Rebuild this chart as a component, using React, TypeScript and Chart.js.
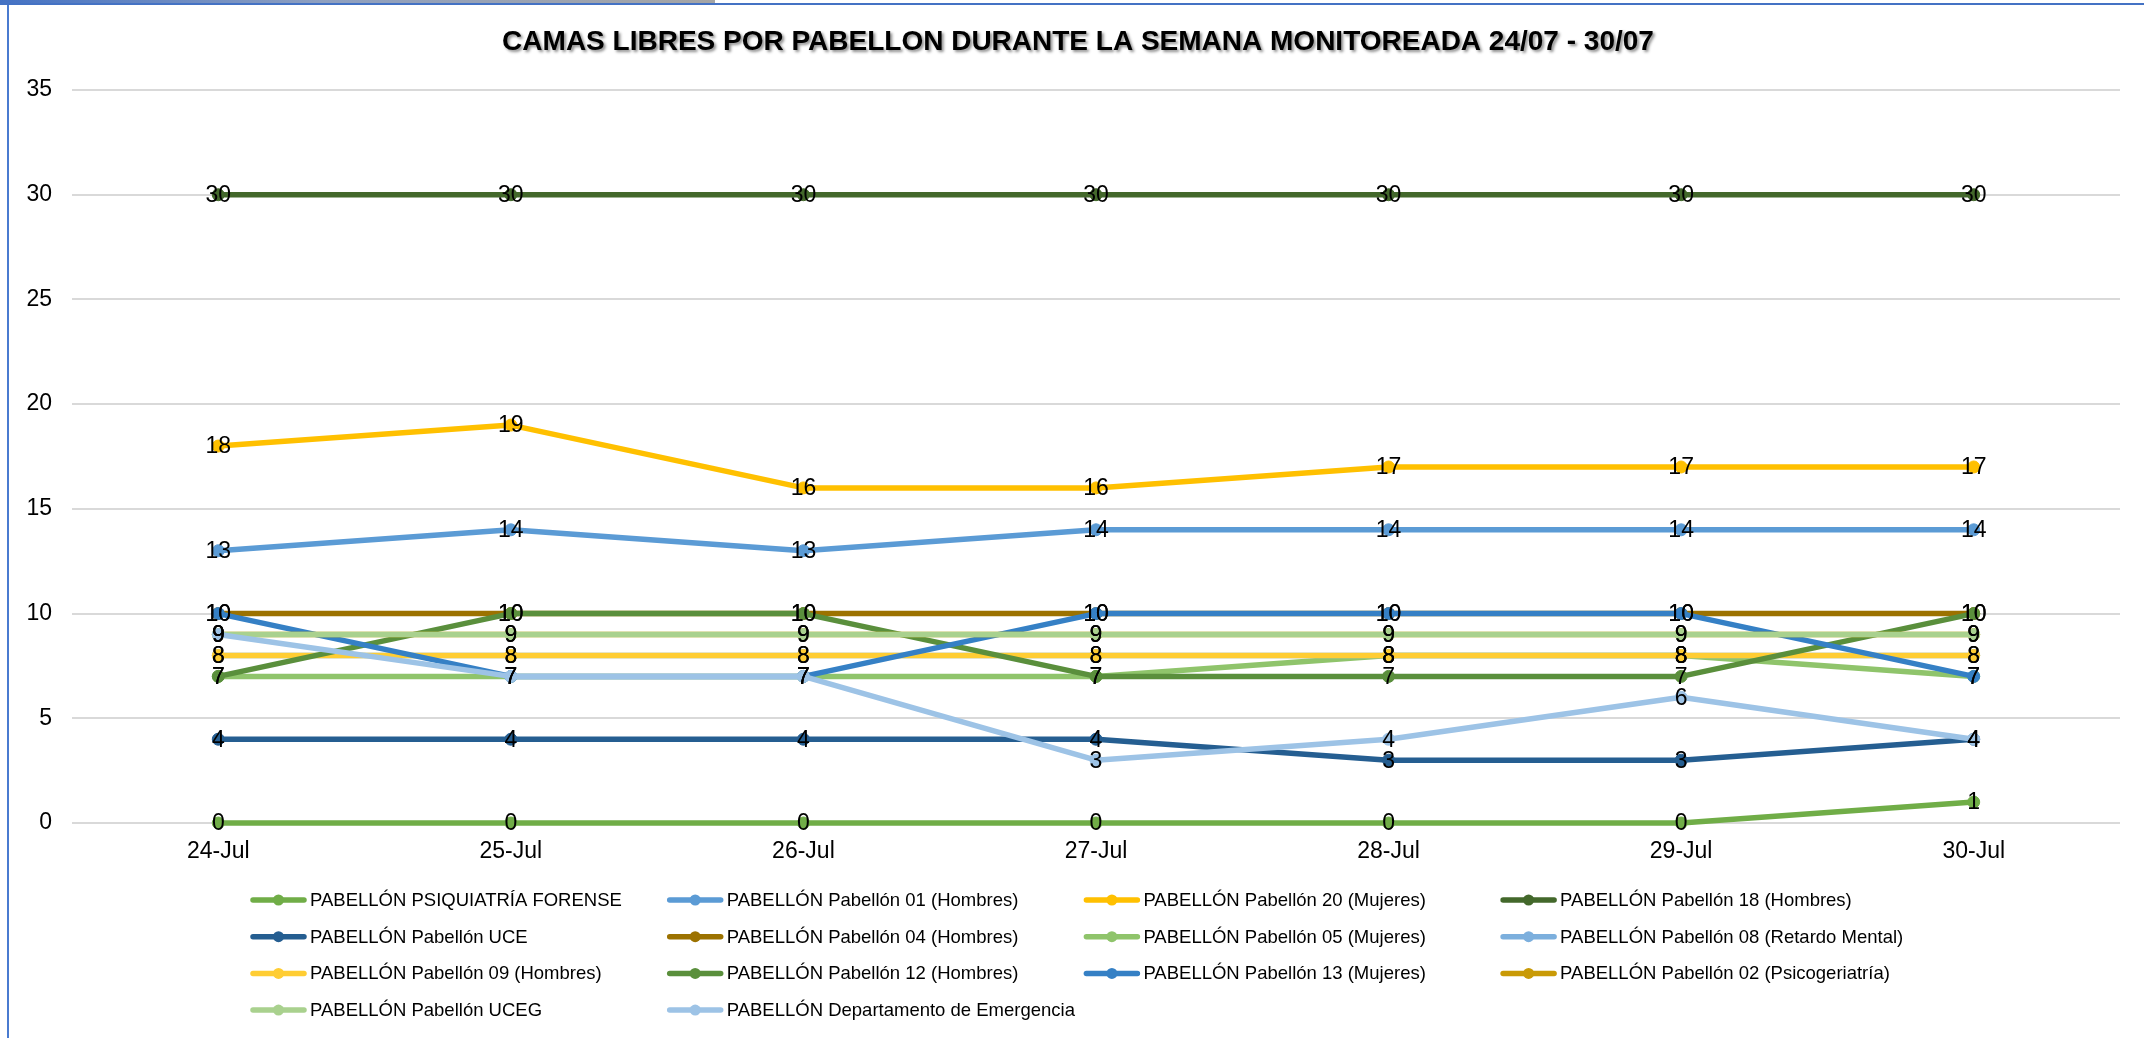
import React, { useEffect, useRef } from 'react';
import { Chart, registerables } from 'chart.js';

Chart.register(...registerables);

const titleText = 'CAMAS LIBRES POR PABELLON DURANTE LA SEMANA MONITOREADA 24/07 - 30/07';

const categories = ['24-Jul', '25-Jul', '26-Jul', '27-Jul', '28-Jul', '29-Jul', '30-Jul'];

const seriesNames = [
  'PABELLÓN PSIQUIATRÍA FORENSE',
  'PABELLÓN Pabellón 01 (Hombres)',
  'PABELLÓN Pabellón 20 (Mujeres)',
  'PABELLÓN Pabellón 18 (Hombres)',
  'PABELLÓN Pabellón UCE',
  'PABELLÓN Pabellón 04 (Hombres)',
  'PABELLÓN Pabellón 05 (Mujeres)',
  'PABELLÓN Pabellón 08 (Retardo Mental)',
  'PABELLÓN Pabellón 09 (Hombres)',
  'PABELLÓN Pabellón 12 (Hombres)',
  'PABELLÓN Pabellón 13 (Mujeres)',
  'PABELLÓN Pabellón 02 (Psicogeriatría)',
  'PABELLÓN Pabellón UCEG',
  'PABELLÓN Departamento de Emergencia',
];

const forense = [0, 0, 0, 0, 0, 0, 1];
const pab01 = [13, 14, 13, 14, 14, 14, 14];
const pab20 = [18, 19, 16, 16, 17, 17, 17];
const pab18 = [30, 30, 30, 30, 30, 30, 30];
const uce = [4, 4, 4, 4, 3, 3, 4];
const pab04 = [10, 10, 10, 10, 10, 10, 10];
const pab05 = [7, 7, 7, 7, 8, 8, 7];
const pab08 = [8, 8, 8, 8, 8, 8, 8];
const pab09 = [8, 8, 8, 8, 8, 8, 8];
const pab12 = [7, 10, 10, 7, 7, 7, 10];
const pab13 = [10, 7, 7, 10, 10, 10, 7];
const pab02 = [9, 9, 9, 9, 9, 9, 9];
const uceg = [9, 9, 9, 9, 9, 9, 9];
const emergencia = [9, 7, 7, 3, 4, 6, 4];

const seriesValues = [forense, pab01, pab20, pab18, uce, pab04, pab05, pab08, pab09, pab12, pab13, pab02, uceg, emergencia];

const seriesColors = [
  '#70AD47',
  '#5B9BD5',
  '#FFC000',
  '#43682B',
  '#255E91',
  '#9C7200',
  '#8FC46B',
  '#7CAFDD',
  '#FFCD33',
  '#5A8F3C',
  '#3580C5',
  '#C99A06',
  '#A9D18E',
  '#9DC3E6',
];

const FONT = '"Liberation Sans", Arial, sans-serif';

const titlePlugin = {
  id: 'customTitle',
  afterDraw(chart: any) {
    const ctx = chart.ctx;
    ctx.save();
    ctx.font = `bold 28px ${FONT}`;
    ctx.textAlign = 'center';
    ctx.textBaseline = 'middle';
    ctx.shadowColor = 'rgba(0,0,0,0.45)';
    ctx.shadowBlur = 3;
    ctx.shadowOffsetX = 2;
    ctx.shadowOffsetY = 2;
    ctx.fillStyle = '#000000';
    ctx.fillText(titleText, 1078, 42);
    ctx.restore();
  },
};

const dataLabelPlugin = {
  id: 'pointLabels',
  afterDatasetsDraw(chart: any) {
    const ctx = chart.ctx;
    ctx.save();
    ctx.font = `23px ${FONT}`;
    ctx.textAlign = 'center';
    ctx.textBaseline = 'middle';
    ctx.fillStyle = '#000000';
    chart.data.datasets.forEach((ds: any, i: number) => {
      const meta = chart.getDatasetMeta(i);
      meta.data.forEach((pt: any, j: number) => {
        ctx.fillText(String(ds.data[j]), pt.x, pt.y + 1);
      });
    });
    ctx.restore();
  },
};

const legendPlugin = {
  id: 'gridLegend',
  afterDraw(chart: any) {
    const ctx = chart.ctx;
    const x0 = 251;
    const colW = 416.7;
    const y0 = 900;
    const rowH = 36.7;
    ctx.save();
    ctx.font = `18.5px ${FONT}`;
    ctx.textBaseline = 'middle';
    ctx.textAlign = 'left';
    chart.data.datasets.forEach((ds: any, i: number) => {
      const col = i % 4;
      const row = Math.floor(i / 4);
      const x = x0 + col * colW;
      const y = y0 + row * rowH;
      ctx.strokeStyle = ds.borderColor;
      ctx.lineWidth = 5.5;
      ctx.lineCap = 'round';
      ctx.beginPath();
      ctx.moveTo(x + 2, y);
      ctx.lineTo(x + 53, y);
      ctx.stroke();
      ctx.fillStyle = ds.borderColor;
      ctx.beginPath();
      ctx.arc(x + 27.5, y, 5.5, 0, Math.PI * 2);
      ctx.fill();
      ctx.fillStyle = '#000000';
      ctx.fillText(ds.label, x + 59, y + 1);
    });
    ctx.restore();
  },
};

export default function App() {
  const canvasRef = useRef<HTMLCanvasElement | null>(null);

  useEffect(() => {
    document.body.style.margin = '0';
    document.body.style.overflow = 'hidden';
    const canvas = canvasRef.current;
    if (!canvas) return;
    const n = seriesNames.length;
    const chart = new Chart(canvas, {
      type: 'line',
      data: {
        labels: categories,
        datasets: seriesNames.map((name, i) => ({
          label: name,
          data: seriesValues[i],
          borderColor: seriesColors[i],
          backgroundColor: seriesColors[i],
          pointBackgroundColor: seriesColors[i],
          pointBorderColor: seriesColors[i],
          borderWidth: 5.5,
          pointRadius: 6,
          pointBorderWidth: 1,
          borderCapStyle: 'round',
          borderJoinStyle: 'round',
          tension: 0,
          fill: false,
          clip: false,
          order: n - i,
        })),
      },
      options: {
        responsive: false,
        animation: false,
        devicePixelRatio: 1,
        layout: { padding: { left: 0, top: 90, right: 24, bottom: 0 } },
        plugins: {
          legend: { display: false },
          title: { display: false },
          tooltip: { enabled: false },
        },
        scales: {
          x: {
            type: 'category',
            offset: true,
            grid: { display: false, drawTicks: false },
            border: { display: false },
            ticks: {
              color: '#000000',
              font: { family: FONT, size: 23 },
              padding: 15,
              maxRotation: 0,
              autoSkip: false,
            },
            afterFit(scale: any) {
              scale.height = 215;
            },
          },
          y: {
            min: 0,
            max: 35,
            ticks: {
              stepSize: 5,
              color: '#000000',
              font: { family: FONT, size: 23 },
              padding: 20,
            },
            grid: { color: '#D9D9D9', lineWidth: 2, drawTicks: false },
            border: { display: false },
            afterFit(scale: any) {
              scale.width = 72;
            },
          },
        },
      },
      plugins: [titlePlugin, dataLabelPlugin, legendPlugin],
    } as any);
    return () => {
      chart.destroy();
    };
  }, []);

  return (
    <div style={{ position: 'relative', width: 2144, height: 1038, background: '#FFFFFF', overflow: 'hidden' }}>
      <canvas ref={canvasRef} width={2144} height={1038} style={{ position: 'absolute', left: 0, top: 0, width: 2144, height: 1038 }} />
      <div style={{ position: 'absolute', left: 0, top: 0, width: 715, height: 3, background: 'linear-gradient(to right, #4472C4, #8FA0C0 45%, #A5A5A5)' }} />
      <div style={{ position: 'absolute', left: 0, top: 3, width: 2144, height: 2, background: '#4472C4' }} />
      <div style={{ position: 'absolute', left: 7, top: 5, width: 2, height: 1033, background: '#4A7BD0' }} />
    </div>
  );
}
